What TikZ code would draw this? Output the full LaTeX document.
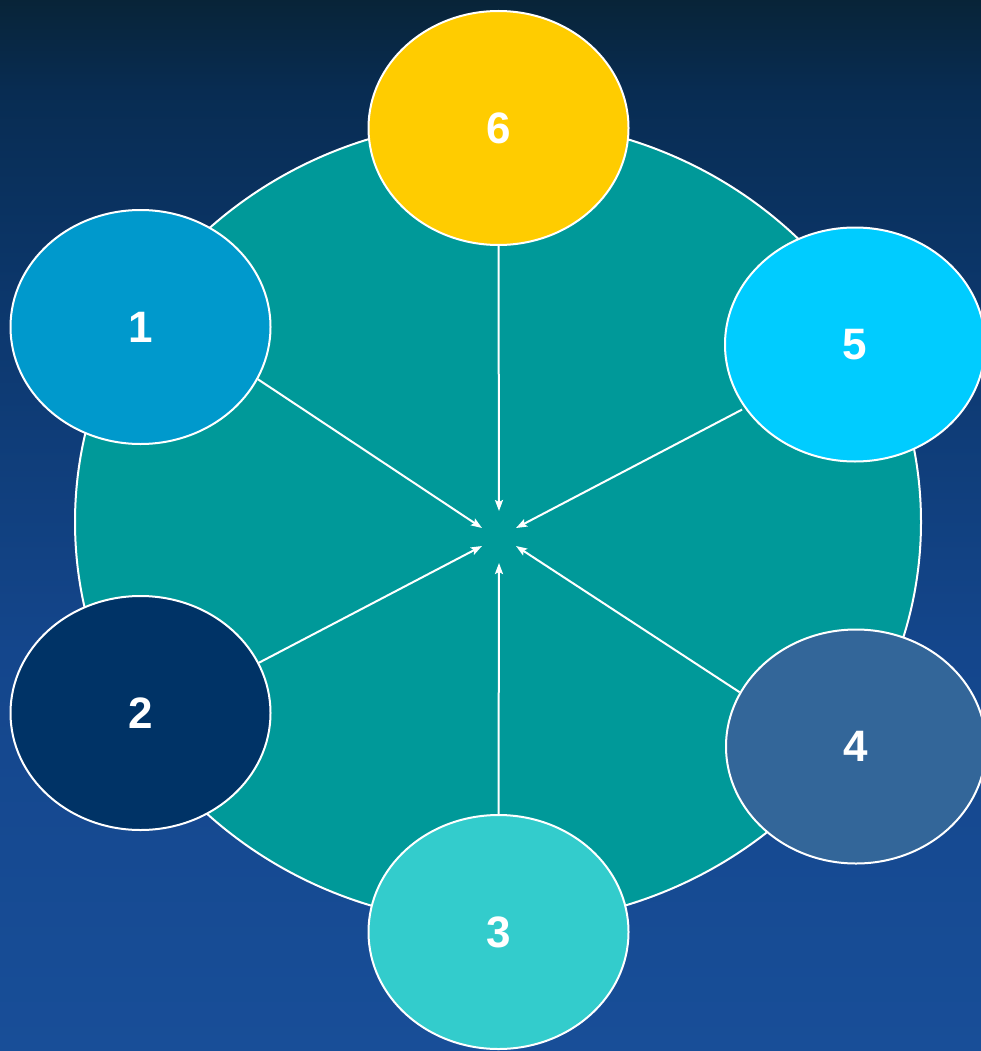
\documentclass[tikz,border=0pt]{standalone}
\usepackage{fontspec}
\setmainfont{Liberation Sans}
\usetikzlibrary{arrows.meta,shapes.geometric}
\definecolor{teal}{RGB}{0,153,153}
\definecolor{cA}{RGB}{0,153,204}
\definecolor{cB}{RGB}{0,51,102}
\definecolor{cC}{RGB}{51,204,204}
\definecolor{cD}{RGB}{51,102,153}
\definecolor{cE}{RGB}{0,204,255}
\definecolor{cF}{RGB}{255,204,0}
\pgfdeclareverticalshading{bgshade}{100bp}{
  color(0bp)=(rgb,255:red,24;green,78;blue,152);
  color(25bp)=(rgb,255:red,24;green,78;blue,152);
  color(44bp)=(rgb,255:red,20;green,70;blue,140);
  color(60.7bp)=(rgb,255:red,12;green,55;blue,108);
  color(70.7bp)=(rgb,255:red,8;green,44;blue,82);
  color(75bp)=(rgb,255:red,8;green,36;blue,56);
  color(100bp)=(rgb,255:red,8;green,36;blue,56)}
\tikzset{
  bubble/.style={ellipse, draw=white, line width=2pt, minimum width=260pt, minimum height=234pt, inner sep=0pt,
    text=white, font=\fontsize{44}{44}\selectfont\bfseries},
  spoke/.style={draw=white, line width=2pt, -{Stealth[length=11pt,width=8pt,inset=2pt]}}
}
\begin{document}
\begin{tikzpicture}[x=1pt,y=-1pt]
\useasboundingbox (0,0) rectangle (981,1051);
\shade[shading=bgshade] (0,0) rectangle (981,1051);
\node[ellipse, draw=white, line width=2pt, fill=teal, minimum width=846pt, minimum height=804pt, inner sep=0pt] (big) at (498,522) {};
\coordinate (t1) at (482,528);
\coordinate (t2) at (482,546);
\coordinate (t3) at (499,563);
\coordinate (t4) at (516,546);
\coordinate (t5) at (516,528);
\coordinate (t6) at (499,511);
\node[bubble, fill=cF] (e6) at (498.5,128) {6};
\node[bubble, fill=cA] (e1) at (140.5,327) {1};
\node[bubble, fill=cE] (e5) at (855,344.5) {5};
\node[bubble, fill=cB] (e2) at (140.5,713) {2};
\node[bubble, fill=cD] (e4) at (856,746.5) {4};
\node[bubble, fill=cC] (e3) at (498.5,932) {3};
\draw[spoke] (e6.-90) -- (t6);
\draw[spoke] (e3.90) -- (t3);
\draw[spoke] (e1.-24) -- (t1);
\draw[spoke] (e2.23) -- (t2);
\draw[spoke, shorten <=3pt] (e5.210) -- (t5);
\draw[spoke] (e4.155) -- (t4);
\end{tikzpicture}
\end{document}
